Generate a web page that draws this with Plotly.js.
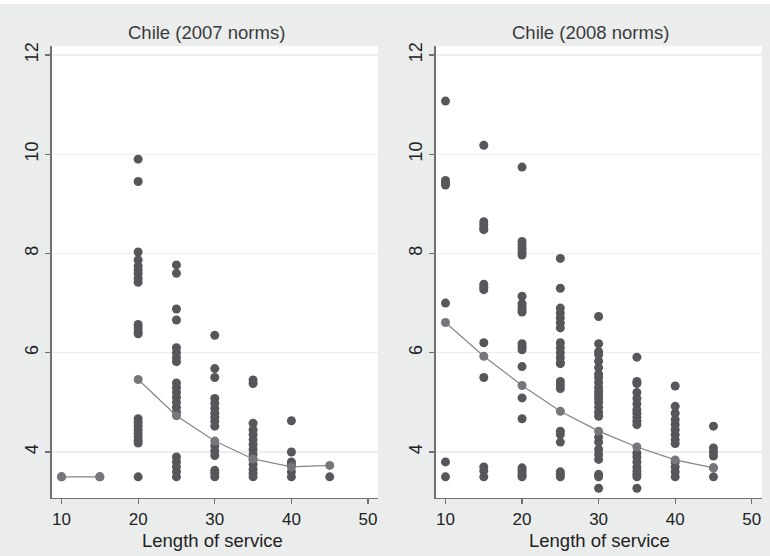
<!DOCTYPE html>
<html>
<head>
<meta charset="utf-8">
<script src="https://cdn.plot.ly/plotly-3.0.1.min.js"></script>
<style>html,body{margin:0;padding:0;background:#ebeded;}</style>
</head>
<body>
<div id="chart" style="width:770px;height:556px;"></div>
<script>
// ---- Data ----
const panelTitles = ["Chile (2007 norms)", "Chile (2008 norms)"];
const xAxisTitle = "Length of service";
const xTicks = [10, 20, 30, 40, 50];
const yTicks = [4, 6, 8, 10, 12];
const serviceYears = [10, 15, 20, 25, 30, 35, 40, 45];

// 2007 norms: observed values per length of service
const obs2007_10 = [3.5];
const obs2007_15 = [3.5];
const obs2007_20 = [9.9, 9.45, 8.03, 7.87, 7.75, 7.67, 7.6, 7.5, 7.42, 6.57, 6.5, 6.43, 6.38, 4.67, 4.6, 4.53, 4.45, 4.38, 4.3, 4.23, 4.18, 3.5];
const obs2007_25 = [7.77, 7.6, 6.88, 6.66, 6.1, 6.0, 5.9, 5.82, 5.39, 5.3, 5.2, 5.1, 5.0, 4.9, 4.8, 3.9, 3.8, 3.7, 3.6, 3.5];
const obs2007_30 = [6.35, 5.68, 5.5, 5.08, 4.98, 4.88, 4.78, 4.7, 4.62, 4.52, 4.12, 4.02, 3.93, 3.63, 3.57, 3.5];
const obs2007_35 = [5.45, 5.38, 4.58, 4.45, 4.35, 4.25, 4.15, 4.05, 3.95, 3.85, 3.75, 3.65, 3.57, 3.5];
const obs2007_40 = [4.63, 4.0, 3.8, 3.75, 3.6, 3.5];
const obs2007_45 = [3.5];
// fitted curve 2007 (break between 15 and 20)
const fit2007 = [3.5, 3.5, 5.46, 4.73, 4.22, 3.86, 3.7, 3.73];

// 2008 norms
const obs2008_10 = [11.07, 9.47, 9.42, 9.38, 7.0, 3.8, 3.5];
const obs2008_15 = [10.18, 8.64, 8.58, 8.52, 8.48, 7.38, 7.32, 7.27, 6.2, 5.5, 3.7, 3.62, 3.5];
const obs2008_20 = [9.74, 8.24, 8.17, 8.1, 8.03, 7.97, 7.14, 6.99, 6.93, 6.87, 6.82, 6.18, 6.12, 6.06, 5.72, 5.09, 4.67, 3.68, 3.63, 3.58, 3.53, 3.5];
const obs2008_25 = [7.9, 7.3, 6.9, 6.8, 6.7, 6.6, 6.5, 6.2, 6.1, 6.0, 5.9, 5.8, 5.78, 5.42, 5.35, 5.28, 4.42, 4.35, 4.2, 3.6, 3.55, 3.5];
const obs2008_30 = [6.73, 6.18, 6.02, 5.96, 5.83, 5.7, 5.57, 5.5, 5.4, 5.3, 5.22, 5.15, 5.08, 5.0, 4.9, 4.8, 4.72, 4.3, 4.2, 4.05, 3.95, 3.85, 3.55, 3.5, 3.27];
const obs2008_35 = [5.91, 5.42, 5.38, 5.2, 5.08, 4.97, 4.85, 4.78, 4.7, 4.62, 4.55, 3.98, 3.9, 3.8, 3.7, 3.62, 3.55, 3.5, 3.27];
const obs2008_40 = [5.33, 4.92, 4.78, 4.65, 4.55, 4.45, 4.35, 4.25, 4.17, 3.8, 3.7, 3.6, 3.5];
const obs2008_45 = [4.52, 4.08, 4.0, 3.92, 3.68, 3.5];
const fit2008 = [6.61, 5.93, 5.34, 4.82, 4.42, 4.1, 3.84, 3.68];

// ---- Build ----
function flatten(groups) {
  const xs = [], ys = [];
  groups.forEach((g, i) => g.forEach(v => { xs.push(serviceYears[i]); ys.push(v); }));
  return {x: xs, y: ys};
}
const g2007 = flatten([obs2007_10, obs2007_15, obs2007_20, obs2007_25, obs2007_30, obs2007_35, obs2007_40, obs2007_45]);
const g2008 = flatten([obs2008_10, obs2008_15, obs2008_20, obs2008_25, obs2008_30, obs2008_35, obs2008_40, obs2008_45]);

const dotColor = '#55575b';
const fitMarkColor = '#75777a';
const fitLineColor = '#858585';
const mSize = 9;

const traces = [
  {x: g2007.x, y: g2007.y, type: 'scatter', mode: 'markers', marker: {color: dotColor, size: mSize}, xaxis: 'x', yaxis: 'y'},
  {x: serviceYears.slice(0, 2), y: fit2007.slice(0, 2), type: 'scatter', mode: 'lines+markers', line: {color: fitLineColor, width: 1.2}, marker: {color: fitMarkColor, size: mSize}, xaxis: 'x', yaxis: 'y'},
  {x: serviceYears.slice(2), y: fit2007.slice(2), type: 'scatter', mode: 'lines+markers', line: {color: fitLineColor, width: 1.2}, marker: {color: fitMarkColor, size: mSize}, xaxis: 'x', yaxis: 'y'},
  {x: g2008.x, y: g2008.y, type: 'scatter', mode: 'markers', marker: {color: dotColor, size: mSize}, xaxis: 'x2', yaxis: 'y2'},
  {x: serviceYears, y: fit2008, type: 'scatter', mode: 'lines+markers', line: {color: fitLineColor, width: 1.2}, marker: {color: fitMarkColor, size: mSize}, xaxis: 'x2', yaxis: 'y2'}
];

const W = 770, H = 556;
const font = {family: '"Liberation Sans", Arial, Helvetica, sans-serif', color: '#222222'};
const xRange = [8.72, 51.3];
const yRange = [3.073, 12.18];
const yDom = [1 - 498 / H, 1 - 46 / H];

function xAx(dom, anchor) {
  return {domain: dom, anchor: anchor, range: xRange, tickvals: xTicks, ticktext: xTicks.map(String),
    showgrid: false, zeroline: false, showline: true, linecolor: '#707070', linewidth: 1.3,
    ticks: 'outside', ticklen: 5, tickcolor: '#707070', tickwidth: 1.2,
    tickfont: {size: 17, family: font.family, color: '#222222'}, fixedrange: true};
}
function yAx(anchor) {
  return {domain: yDom, anchor: anchor, range: yRange, tickvals: yTicks, ticktext: yTicks.map(String),
    tickangle: -90, showgrid: true, gridcolor: '#ededed', gridwidth: 1.2, zeroline: false,
    showline: true, linecolor: '#707070', linewidth: 1.3,
    ticks: 'outside', ticklen: 5, tickcolor: '#707070', tickwidth: 1.2,
    tickfont: {size: 18, family: font.family, color: '#222222'}, fixedrange: true};
}

const layout = {
  width: W, height: H,
  margin: {l: 0, r: 0, t: 0, b: 0},
  paper_bgcolor: '#ebeded', plot_bgcolor: '#ffffff',
  showlegend: false, font: font,
  xaxis: xAx([51.7 / W, 378 / W], 'y'),
  yaxis: yAx('x'),
  xaxis2: xAx([435.7 / W, 761.7 / W], 'y2'),
  yaxis2: yAx('x2'),
  shapes: [
    {type: 'rect', xref: 'paper', yref: 'paper', x0: 0, x1: 1, y0: 1 - 4 / H, y1: 1, fillcolor: '#ffffff', line: {width: 0}, layer: 'below'}
  ],
  annotations: [
    {text: panelTitles[0], xref: 'paper', yref: 'paper', x: 207 / W, y: 1 - 33 / H, xanchor: 'center', yanchor: 'middle', showarrow: false, font: {size: 18.5, family: font.family, color: '#3a3a3a'}},
    {text: panelTitles[1], xref: 'paper', yref: 'paper', x: 590 / W, y: 1 - 33 / H, xanchor: 'center', yanchor: 'middle', showarrow: false, font: {size: 18.5, family: font.family, color: '#3a3a3a'}},
    {text: xAxisTitle, xref: 'paper', yref: 'paper', x: 213 / W, y: 1 - 540 / H, xanchor: 'center', yanchor: 'middle', showarrow: false, font: {size: 18.5, family: font.family, color: '#222222'}},
    {text: xAxisTitle, xref: 'paper', yref: 'paper', x: 599 / W, y: 1 - 540 / H, xanchor: 'center', yanchor: 'middle', showarrow: false, font: {size: 18.5, family: font.family, color: '#222222'}}
  ]
};

Plotly.newPlot('chart', traces, layout, {displayModeBar: false, staticPlot: true});
</script>
</body>
</html>
